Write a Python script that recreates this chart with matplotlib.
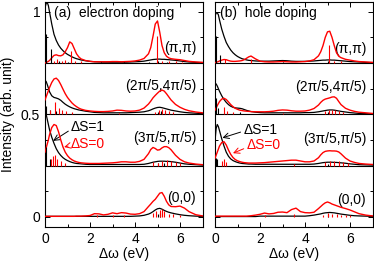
import matplotlib
matplotlib.use('Agg')
import matplotlib.pyplot as plt
from matplotlib.ticker import MultipleLocator

plt.rcParams['font.family'] = ['Liberation Sans', 'DejaVu Sans']
plt.rcParams['font.size'] = 10

omega = [0.0, 0.05, 0.1, 0.15, 0.2, 0.3, 0.4, 0.5, 0.6, 0.7,
         0.8, 0.9, 1.0, 1.1, 1.2, 1.3, 1.4, 1.5, 1.6, 1.8,
         2.0, 2.2, 2.4, 2.6, 2.8, 3.0, 3.2, 3.4, 3.6, 3.8,
         4.0, 4.2, 4.4, 4.6, 4.7, 4.8, 4.9, 5.0, 5.1, 5.2,
         5.3, 5.4, 5.5, 5.6, 5.8, 6.0, 6.2, 6.4, 6.7, 7.0]

q_labels = ['(π,π)', '(2π/5,4π/5)', '(3π/5,π/5)', '(0,0)']
offsets = [0.75, 0.5, 0.25, 0.0]

# ---- (a) electron doping : dS=1 (black) and dS=0 (red), height above baseline
a_pipi_s1 = [.27, .29, .295, .28, .25, .19, .14, .11, .088, .072,
             .06, .05, .042, .036, .03, .025, .021, .018, .015, .011,
             .008, .006, .005, .004, .004, .004, .004, .004, .004, .005,
             .006, .007, .009, .013, .015, .017, .018, .019, .019, .018,
             .018, .017, .016, .015, .013, .010, .007, .005, .003, .002]
a_pipi_s0 = [0, .002, .005, .008, .012, .025, .037, .04, .036, .035,
             .04, .055, .075, .103, .095, .07, .045, .03, .02, .012,
             .008, .006, .006, .006, .006, .007, .007, .006, .007, .008,
             .01, .014, .022, .045, .075, .13, .19, .205, .15, .085,
             .05, .033, .025, .021, .018, .016, .012, .008, .005, .003]
a_q2_s1 = [.165, .16, .145, .128, .11, .09, .082, .079, .075, .068,
           .058, .049, .042, .036, .031, .027, .024, .021, .019, .015,
           .012, .009, .008, .007, .007, .007, .007, .007, .007, .008,
           .009, .01, .012, .017, .021, .026, .03, .033, .034, .032,
           .029, .026, .023, .02, .016, .012, .009, .007, .005, .003]
a_q2_s0 = [.07, .085, .1, .115, .13, .155, .172, .176, .165, .145,
           .122, .1, .082, .068, .055, .045, .037, .03, .025, .019,
           .016, .014, .013, .013, .014, .016, .02, .019, .016, .015,
           .016, .02, .03, .05, .064, .08, .092, .103, .113, .118,
           .113, .1, .085, .07, .048, .034, .024, .017, .011, .007]
a_q3_s1 = [.26, .25, .225, .2, .175, .138, .108, .082, .063, .049,
           .038, .03, .024, .019, .015, .012, .01, .009, .008, .006,
           .005, .005, .005, .005, .005, .005, .005, .005, .005, .005,
           .005, .005, .006, .01, .013, .016, .018, .02, .021, .021,
           .021, .02, .02, .019, .016, .012, .008, .006, .004, .002]
a_q3_s0 = [.065, .085, .105, .125, .15, .185, .2, .195, .165, .125,
           .09, .065, .048, .036, .028, .022, .018, .015, .013, .011,
           .01, .01, .01, .011, .012, .013, .015, .018, .018, .016,
           .016, .02, .03, .058, .078, .088, .083, .075, .077, .086,
           .092, .092, .087, .077, .05, .03, .018, .012, .007, .004]
a_q4_s1 = [.002, .002, .002, .002, .002, .002, .002, .002, .002, .002,
           .002, .002, .002, .002, .002, .002, .002, .002, .002, .002,
           .002, .002, .002, .002, .002, .002, .002, .002, .002, .002,
           .003, .004, .007, .013, .018, .025, .033, .039, .041, .037,
           .031, .026, .022, .019, .014, .01, .007, .005, .003, .002]
a_q4_s0 = [.002, .002, .002, .002, .002, .002, .002, .002, .002, .002,
           .002, .002, .002, .002, .002, .002, .003, .003, .003, .004,
           .006, .015, .014, .009, .012, .019, .015, .02, .018, .013,
           .012, .015, .025, .05, .062, .075, .085, .1, .115, .118,
           .1, .075, .058, .05, .049, .052, .042, .025, .01, .004]

# ---- (b) hole doping
b_pipi_s1 = [.23, .243, .245, .235, .21, .165, .13, .1, .08, .063,
             .05, .04, .032, .026, .021, .018, .015, .013, .012, .01,
             .009, .009, .009, .01, .011, .012, .011, .009, .008, .008,
             .008, .009, .01, .012, .013, .014, .014, .015, .015, .014,
             .014, .013, .012, .011, .009, .007, .006, .005, .003, .002]
b_pipi_s0 = [.002, .003, .005, .007, .01, .014, .017, .016, .012, .009,
             .008, .008, .009, .01, .012, .016, .023, .03, .034, .02,
             .009, .006, .005, .005, .006, .007, .006, .005, .005, .006,
             .007, .01, .016, .035, .055, .085, .125, .152, .155, .125,
             .085, .05, .033, .026, .018, .014, .01, .007, .005, .003]
b_q2_s1 = [.15, .148, .138, .125, .112, .09, .072, .058, .047, .039,
           .034, .031, .03, .029, .027, .023, .019, .016, .013, .01,
           .008, .007, .007, .007, .007, .007, .007, .007, .007, .007,
           .008, .008, .009, .012, .014, .016, .018, .02, .021, .021,
           .02, .018, .016, .014, .011, .008, .006, .004, .003, .002]
b_q2_s0 = [.02, .03, .042, .052, .062, .074, .078, .072, .06, .047,
           .037, .029, .024, .02, .018, .016, .015, .014, .013, .012,
           .012, .012, .013, .015, .019, .021, .02, .017, .015, .015,
           .016, .02, .028, .045, .058, .068, .074, .077, .08, .084,
           .085, .078, .062, .047, .029, .02, .014, .01, .007, .004]
b_q3_s1 = [.12, .18, .2, .19, .17, .13, .095, .065, .045, .032,
           .024, .019, .015, .012, .01, .009, .008, .007, .007, .006,
           .006, .006, .006, .006, .006, .006, .006, .006, .006, .006,
           .006, .006, .007, .01, .012, .014, .015, .016, .016, .016,
           .015, .015, .014, .013, .011, .008, .006, .004, .003, .002]
b_q3_s0 = [.035, .05, .065, .08, .095, .112, .116, .1, .075, .054,
           .039, .029, .023, .019, .016, .014, .013, .012, .012, .012,
           .013, .014, .016, .018, .02, .022, .024, .026, .026, .022,
           .018, .018, .022, .038, .052, .063, .069, .071, .072, .071,
           .071, .07, .066, .057, .036, .022, .015, .01, .007, .005]
b_q4_s1 = [.001, .001, .001, .001, .001, .001, .001, .001, .001, .001,
           .001, .001, .001, .001, .001, .001, .001, .001, .001, .001,
           .003, .003, .003, .003, .003, .003, .003, .003, .003, .003,
           .003, .005, .008, .012, .014, .017, .019, .02, .021, .02,
           .019, .017, .015, .013, .01, .007, .005, .004, .003, .002]
b_q4_s0 = [.002, .003, .003, .003, .003, .003, .003, .003, .003, .003,
           .003, .003, .003, .003, .003, .003, .003, .004, .005, .008,
           .012, .018, .014, .016, .022, .023, .02, .035, .042, .025,
           .02, .019, .022, .04, .05, .06, .068, .072, .068, .062,
           .058, .054, .05, .046, .04, .033, .024, .015, .008, .004]

# ---- stick spectra (position, weight)
a_stk_s1 = [([0.06, 0.25, 0.6, 1.0, 2.5, 3.5, 4.6, 5.0, 5.4, 5.8],
             [0.14, 0.068, 0.008, 0.006, 0.004, 0.004, 0.006, 0.008, 0.006, 0.005]),
            ([0.03, 0.2, 0.5, 5.0, 5.15, 5.35], [0.04, 0.02, 0.015, 0.012, 0.018, 0.01]),
            ([0.04, 0.2, 5.0, 5.3], [0.09, 0.03, 0.01, 0.01]),
            ([5.0, 5.1], [0.015, 0.02])]
a_stk_s0 = [([0.4, 0.55, 0.75, 0.9, 1.16, 1.35, 1.6, 4.97, 5.2, 5.5, 5.8, 6.1],
             [0.012, 0.02, 0.012, 0.015, 0.06, 0.01, 0.008, 0.13, 0.012, 0.01, 0.008, 0.006]),
            ([0.2, 0.45, 0.6, 0.75, 0.95, 1.2, 3.3, 4.9, 5.05, 5.2, 5.35, 5.5, 5.7],
             [0.02, 0.062, 0.03, 0.02, 0.015, 0.01, 0.006, 0.012, 0.02, 0.025, 0.02, 0.015, 0.01]),
            ([0.25, 0.35, 0.45, 0.55, 0.7, 0.9, 4.8, 5.0, 5.2, 5.4, 5.6, 5.8, 6.0],
             [0.03, 0.045, 0.05, 0.03, 0.02, 0.012, 0.015, 0.012, 0.02, 0.025, 0.02, 0.015, 0.01]),
            ([2.3, 3.0, 3.5, 4.8, 4.95, 5.1, 5.2, 5.3, 5.5, 5.7, 6.0],
             [0.008, 0.008, 0.01, 0.02, 0.03, 0.035, 0.04, 0.03, 0.015, 0.012, 0.01])]
b_stk_s1 = [([0.05, 0.2, 3.0, 5.0], [0.13, 0.04, 0.005, 0.008]),
            ([0.04, 0.15, 1.1, 5.0, 5.2], [0.08, 0.03, 0.01, 0.012, 0.012]),
            ([0.05, 0.1, 5.0], [0.035, 0.03, 0.008]),
            ([5.0], [0.012])]
b_stk_s0 = [([0.45, 1.6, 5.07, 5.3, 5.6], [0.02, 0.02, 0.09, 0.01, 0.008]),
            ([0.4, 0.55, 0.8, 3.0, 4.9, 5.05, 5.2, 5.35, 5.5, 5.7],
             [0.035, 0.015, 0.01, 0.008, 0.015, 0.02, 0.02, 0.02, 0.015, 0.01]),
            ([0.3, 0.4, 0.5, 3.5, 4.9, 5.1, 5.3, 5.5, 5.7, 5.9],
             [0.02, 0.03, 0.015, 0.008, 0.015, 0.02, 0.02, 0.02, 0.015, 0.01]),
            ([2.2, 3.5, 4.8, 5.0, 5.2, 5.4, 5.6, 5.8, 6.0],
             [0.008, 0.015, 0.01, 0.02, 0.015, 0.012, 0.01, 0.01, 0.008])]

fig = plt.figure(figsize=(3.74, 2.63), dpi=100)
ax_a = fig.add_axes([45 / 374, 36 / 263, 157.5 / 374, 225.5 / 263])
ax_b = fig.add_axes([215 / 374, 36 / 263, 157.5 / 374, 225.5 / 263])


def draw_panel(ax, s1, s0, stk1, stk0, title, title_x, lab_y):
    for b in [0.25, 0.5, 0.75]:
        ax.axhline(b, color='k', lw=0.8, zorder=1)
    for i, off in enumerate(offsets):
        ax.plot(omega, [v + off for v in s1[i]], color='k', lw=0.9, zorder=3)
        ax.plot(omega, [v + off for v in s0[i]], color='red', lw=1.0, zorder=4)
        xs, hs = stk1[i]
        ax.vlines(xs, off, [off + h for h in hs], color='k', lw=0.8, zorder=5)
        xs, hs = stk0[i]
        ax.vlines(xs, off, [off + h for h in hs], color='red', lw=0.8, zorder=5)
        ax.text(6.72, off + lab_y[i], q_labels[i], ha='right', va='center')
    ax.text(title_x, 0.995, title, ha='left', va='center')
    ax.set_xlim(0, 7)
    ax.set_ylim(-0.05, 1.05)
    ax.xaxis.set_major_locator(MultipleLocator(2))
    ax.xaxis.set_minor_locator(MultipleLocator(1))
    ax.yaxis.set_major_locator(MultipleLocator(0.5))
    ax.yaxis.set_minor_locator(MultipleLocator(0.125))
    ax.tick_params(which='both', direction='in', top=True, right=True, width=0.7)
    ax.tick_params(which='major', length=3.5)
    ax.tick_params(which='minor', length=2.5)
    for sp in ax.spines.values():
        sp.set_linewidth(0.8)
    ax.set_xlabel('Δω (eV)', labelpad=1)


draw_panel(ax_a, [a_pipi_s1, a_q2_s1, a_q3_s1, a_q4_s1],
           [a_pipi_s0, a_q2_s0, a_q3_s0, a_q4_s0], a_stk_s1, a_stk_s0,
           '(a)  electron doping', 0.38, [0.075, 0.14, 0.135, 0.092])
draw_panel(ax_b, [b_pipi_s1, b_q2_s1, b_q3_s1, b_q4_s1],
           [b_pipi_s0, b_q2_s0, b_q3_s0, b_q4_s0], b_stk_s1, b_stk_s0,
           '(b)  hole doping', 0.22, [0.068, 0.134, 0.13, 0.083])

ax_a.set_yticks([0, 0.5, 1])
ax_a.set_yticklabels(['0', '0.5', '1'])
ax_a.set_ylabel('Intensity (arb. unit)')
ax_a.yaxis.set_label_coords(-0.19, 0.5)
ax_b.set_yticklabels([])

# dS annotations
ax_a.annotate('ΔS=1', xy=(0.36, 0.37), xytext=(1.16, 0.44), ha='left', va='center',
              arrowprops=dict(arrowstyle='->', color='k', lw=0.7, shrinkA=0, shrinkB=0,
                              relpos=(0, 0.3)))
ax_a.annotate('ΔS=0', xy=(0.85, 0.34), xytext=(1.15, 0.355), ha='left', va='center',
              color='red',
              arrowprops=dict(arrowstyle='->', color='red', lw=0.7, shrinkA=0, shrinkB=0,
                              relpos=(0, 0.4)))
ax_b.annotate('ΔS=1', xy=(0.33, 0.385), xytext=(1.26, 0.424), ha='left', va='center',
              arrowprops=dict(arrowstyle='->', color='k', lw=0.7, shrinkA=0, shrinkB=0,
                              relpos=(0, 0.4)))
ax_b.annotate('ΔS=0', xy=(0.8, 0.31), xytext=(1.4, 0.351), ha='left', va='center',
              color='red',
              arrowprops=dict(arrowstyle='->', color='red', lw=0.7, shrinkA=0, shrinkB=0,
                              relpos=(0, 0.3)))

fig.savefig('out.png', dpi=100)
